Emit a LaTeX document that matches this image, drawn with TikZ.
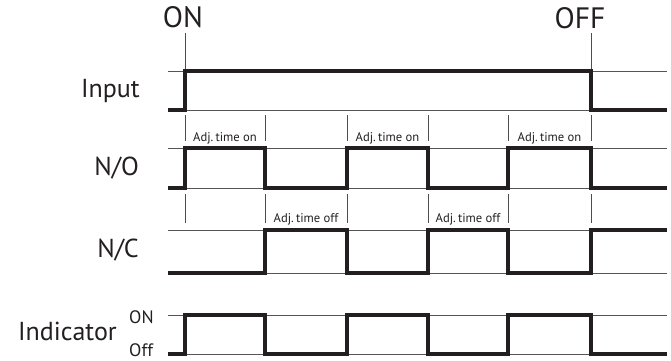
\documentclass[tikz,border=0pt]{standalone}
\usepackage{fontspec}
\setmainfont{PT Sans}
\definecolor{ink}{HTML}{231F20}
\definecolor{thin}{HTML}{555555}
\begin{document}
\begin{tikzpicture}[x=1pt,y=-1pt,
  thinline/.style={draw=thin,line width=0.9pt},
  wave/.style={draw=ink,line width=3.6pt,line join=miter,line cap=butt},
  tickline/.style={draw=ink!80,line width=0.8pt},
  rowlabel/.style={anchor=base east,text=ink,font=\fontsize{26}{26}\selectfont,inner sep=0pt},
  toplabel/.style={anchor=base,text=ink,font=\fontsize{29.5}{29.5}\selectfont,inner sep=0pt},
  lvllabel/.style={anchor=base west,text=ink,font=\fontsize{18}{18}\selectfont,inner sep=0pt},
  adjlabel/.style={anchor=base,text=ink,font=\fontsize{12.6}{12.6}\selectfont,inner sep=0pt}]
\useasboundingbox (0,0) rectangle (671,360);
% times
\def\ta{185}\def\tb{265}\def\tc{347}\def\td{428}\def\te{508}\def\tf{591}
% ---- top labels
\node[toplabel] (on) at (183,27) {ON};
\node[toplabel] (off) at (580,28) {OFF};
\draw[tickline] (\ta,33) -- (\ta,71);
\draw[tickline] (\tf,33) -- (\tf,71);
% ---- Input
\node[rowlabel] (input) at (140,97) {Input};
\draw[thinline] (168,71) -- (667,71);
\draw[thinline] (168,110) -- (667,110);
\draw[wave] (168,110) -- (\ta,110) -- (\ta,71) -- (\tf,71) -- (\tf,110) -- (667,110);
% ticks above N/O
\foreach \t in {\ta,\tb,\tc,\td,\te,\tf} \draw[tickline] (\t,115) -- (\t,141);
\node[adjlabel] (on1) at (225,141) {Adj.\,time on};
\node[adjlabel] (on2) at (387.5,141) {Adj.\,time on};
\node[adjlabel] (on3) at (549.5,141) {Adj.\,time on};
% ---- N/O
\node[rowlabel] (no) at (139,175) {N/O};
\draw[thinline] (168,148) -- (667,148);
\draw[thinline] (168,188) -- (667,188);
\draw[wave] (168,188) -- (\ta,188) -- (\ta,148) -- (\tb,148) -- (\tb,188) -- (\tc,188) -- (\tc,148) -- (\td,148) -- (\td,188) -- (\te,188) -- (\te,148) -- (\tf,148) -- (\tf,188) -- (667,188);
% ticks above N/C
\foreach \t in {\ta,\tb,\tc,\td,\te,\tf} \draw[tickline] (\t,194) -- (\t,223);
\node[adjlabel] (off1) at (306,222) {Adj.\,time off};
\node[adjlabel] (off2) at (468,222) {Adj.\,time off};
% ---- N/C
\node[rowlabel] (nc) at (139,257) {N/C};
\draw[thinline] (168,230) -- (667,230);
\draw[thinline] (168,273) -- (667,273);
\draw[wave] (168,273) -- (\tb,273) -- (\tb,230) -- (\tc,230) -- (\tc,273) -- (\td,273) -- (\td,230) -- (\te,230) -- (\te,273) -- (\tf,273) -- (\tf,230) -- (667,230);
% ---- Indicator
\node[rowlabel] (ind) at (117,340) {Indicator};
\node[lvllabel] (lon) at (129,323) {ON};
\node[lvllabel] (loff) at (129,356) {Off};
\draw[thinline] (168,315) -- (667,315);
\draw[thinline] (168,354) -- (667,354);
\draw[wave] (168,354) -- (\ta,354) -- (\ta,315) -- (\tb,315) -- (\tb,354) -- (\tc,354) -- (\tc,315) -- (\td,315) -- (\td,354) -- (\te,354) -- (\te,315) -- (\tf,315) -- (\tf,354) -- (667,354);
\end{tikzpicture}
\end{document}
